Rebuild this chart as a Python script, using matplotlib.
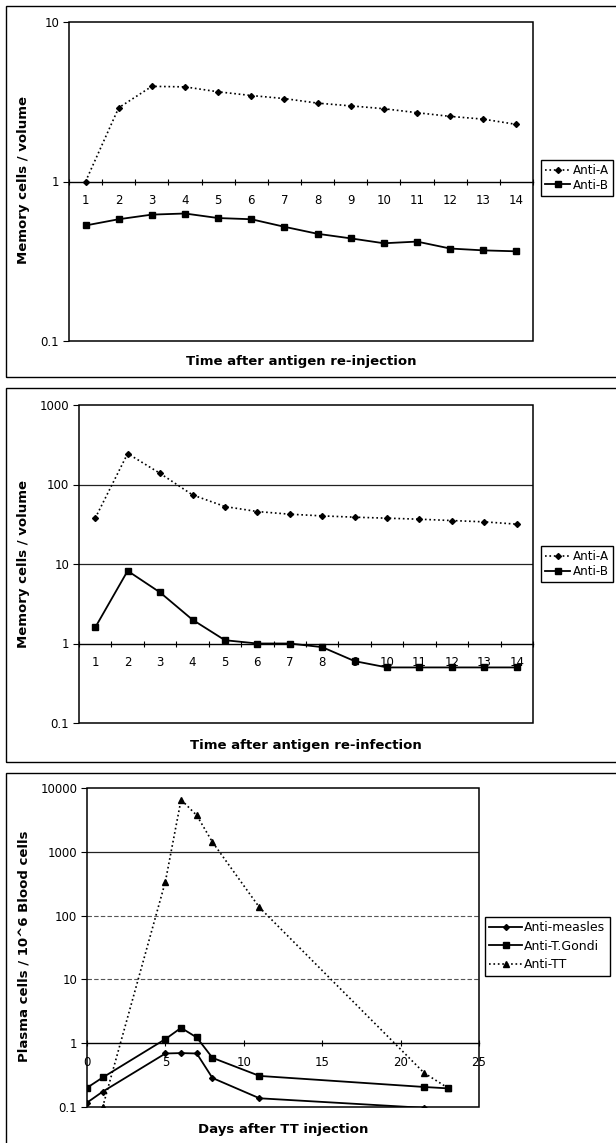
import numpy as np
import matplotlib
matplotlib.use("Agg")
from matplotlib import pyplot as plt
from matplotlib.patches import Rectangle
from matplotlib.ticker import FixedLocator, FuncFormatter, NullLocator

# memory cells after antigen re-injection (days 1..14)
days = list(range(1, 15))
injAntiA = [1.0, 2.9, 3.95, 3.92, 3.65, 3.46, 3.31, 3.10, 2.98, 2.86, 2.70, 2.56, 2.46, 2.28]
injAntiB = [0.53, 0.58, 0.62, 0.63, 0.59, 0.58, 0.52, 0.47, 0.44, 0.41, 0.42, 0.38, 0.37, 0.365]

# memory cells after antigen re-infection
infAntiA = [37.7, 245, 138, 74, 52.8, 45.7, 42.3, 40.3, 38.8, 37.7, 36.6, 35.2, 33.9, 31.7]
infAntiB = [1.59, 8.2, 4.39, 1.99, 1.10, 1.0, 1.0, 0.90, 0.60, 0.50, 0.50, 0.50, 0.50, 0.50]

# plasma cells after TT injection
measlesDays = [0, 1, 5, 6, 7, 8, 11, 21.5]
measles = [0.117, 0.174, 0.69, 0.70, 0.69, 0.285, 0.137, 0.097]
gondiDays = [0, 1, 5, 6, 7, 8, 11, 21.5, 23]
gondi = [0.20, 0.29, 1.16, 1.74, 1.23, 0.59, 0.307, 0.206, 0.196]
ttDays = [1, 5, 6, 7, 8, 11, 21.5, 23]
tt = [0.1, 342, 6560, 3720, 1419, 134, 0.342, 0.20]

W, H = 616, 1143
plt.rcParams['font.family'] = ['DejaVu Sans']
fig = plt.figure(figsize=(W / 100, H / 100), dpi=100)


def box(left, top, right, bottom):
    # figure-fraction rectangle from pixel edges
    return [left / W, 1 - bottom / H, (right - left) / W, (bottom - top) / H]


def panelFrame(top, bottom):
    fig.patches.append(Rectangle((6 / W, 1 - bottom / H), 1.0, (bottom - top) / H,
                                 transform=fig.transFigure, fill=False,
                                 edgecolor='black', linewidth=1.0))


def setupLogAxis(ax, lo, hi):
    ax.set_yscale('log')
    ax.set_ylim(lo, hi)
    decades = [10.0 ** k for k in range(int(np.log10(lo)), int(np.log10(hi)) + 1)]
    ax.yaxis.set_major_locator(FixedLocator(decades))
    ax.yaxis.set_minor_locator(NullLocator())
    ax.yaxis.set_major_formatter(FuncFormatter(lambda v, p: '%g' % v))
    ax.tick_params(axis='y', direction='out', length=4, width=0.8, labelsize=8.5, pad=3)
    for s in ['top', 'right', 'left']:
        ax.spines[s].set_visible(False)
    # category axis crosses the value axis at 1
    ax.spines['bottom'].set_position(('data', 1))
    ax.spines['bottom'].set_linewidth(1.0)
    ax.add_patch(Rectangle((0, 0), 1, 1, transform=ax.transAxes, fill=False,
                           edgecolor='black', linewidth=1.1, zorder=5, clip_on=False))


def categoryAxis(ax):
    ax.set_xlim(0.5, 14.5)
    ax.set_xticks(days)
    ax.set_xticks(np.arange(0.5, 15, 1.0), minor=True)
    ax.tick_params(axis='x', which='major', length=0, labelsize=8.5, pad=9)
    ax.tick_params(axis='x', which='minor', direction='inout', length=5, width=0.8)


def legend(handles, labels, left, centre, spacing, size=9, handle=2.6):
    fig.legend(handles, labels, loc='center left',
               bbox_to_anchor=(left / W, 1 - centre / H), fancybox=False,
               edgecolor='black', framealpha=1, fontsize=size, handlelength=handle,
               handletextpad=0.2, borderpad=0.35, labelspacing=spacing,
               borderaxespad=0)


def axisTitles(ylabel, ycentre, xlabel, xcentre, xrow):
    fig.text(24 / W, 1 - ycentre / H, ylabel, rotation=90,
             ha='center', va='center', fontsize=9.5, fontweight='bold')
    fig.text(xcentre / W, 1 - xrow / H, xlabel,
             ha='center', va='center', fontsize=9.5, fontweight='bold')


# --- top panel ---
panelFrame(6, 377)
ax1 = fig.add_axes(box(69, 22, 533, 341))
setupLogAxis(ax1, 0.1, 10)
categoryAxis(ax1)
a1, = ax1.plot(days, injAntiA, color='black', linestyle=':', linewidth=1.2,
               marker='D', markersize=3)
b1, = ax1.plot(days, injAntiB, color='black', linestyle='-', linewidth=1.3,
               marker='s', markersize=4)
axisTitles('Memory cells / volume', 180, 'Time after antigen re-injection', 301, 362)
legend([a1, b1], ['Anti-A', 'Anti-B'], 541, 178, 0.1, size=8.6, handle=2.1)

# --- middle panel ---
panelFrame(388, 762)
ax2 = fig.add_axes(box(79, 405, 533, 723))
setupLogAxis(ax2, 0.1, 1000)
categoryAxis(ax2)
for g in [100, 10]:
    ax2.axhline(g, color='#222222', linewidth=0.9, zorder=1)
a2, = ax2.plot(days, infAntiA, color='black', linestyle=':', linewidth=1.2,
               marker='D', markersize=3)
b2, = ax2.plot(days, infAntiB, color='black', linestyle='-', linewidth=1.3,
               marker='s', markersize=4)
axisTitles('Memory cells / volume', 564, 'Time after antigen re-infection', 306, 746)
legend([a2, b2], ['Anti-A', 'Anti-B'], 541, 564, 0.15, size=8.6, handle=2.1)

# --- bottom panel ---
panelFrame(773, 1160)
ax3 = fig.add_axes(box(87, 788, 479, 1107))
setupLogAxis(ax3, 0.1, 10000)
ax3.set_xlim(0, 25)
ax3.set_xticks([0, 5, 10, 15, 20, 25])
ax3.tick_params(axis='x', direction='inout', length=5, width=0.8, labelsize=8.5, pad=7)
ax3.axhline(1000, color='#222222', linewidth=0.9, zorder=1)
for g in [100, 10]:
    ax3.axhline(g, color='#555555', linewidth=0.8, linestyle=(0, (4, 2)), zorder=1)
m3, = ax3.plot(measlesDays, measles, color='black', linestyle='-', linewidth=1.3,
               marker='D', markersize=3)
g3, = ax3.plot(gondiDays, gondi, color='black', linestyle='-', linewidth=1.3,
               marker='s', markersize=4)
t3, = ax3.plot(ttDays, tt, color='black', linestyle=':', linewidth=1.2,
               marker='^', markersize=4)
axisTitles('Plasma cells / 10^6 Blood cells', 946, 'Days after TT injection', 283, 1129)
legend([m3, g3, t3], ['Anti-measles', 'Anti-T.Gondi', 'Anti-TT'], 485, 946, 0.45)

fig.savefig('out.png', dpi=100)
